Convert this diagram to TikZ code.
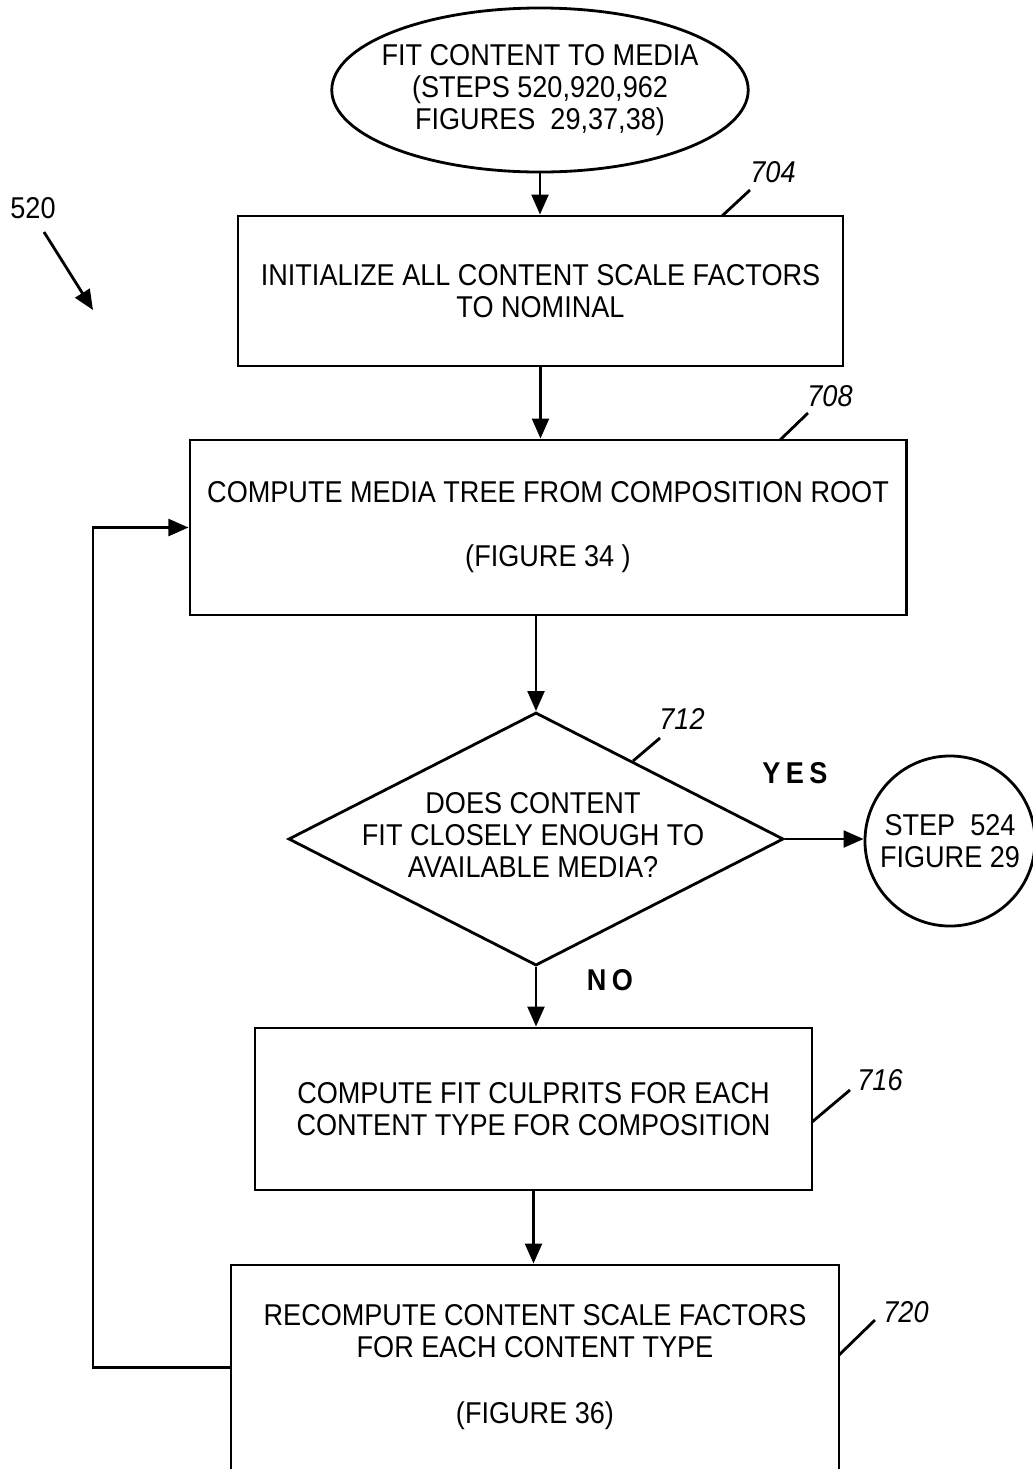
\documentclass[tikz,border=0pt]{standalone}
\usepackage{fontspec}
\setmainfont{Liberation Sans}[FakeStretch=0.9]
\usetikzlibrary{shapes.geometric,arrows.meta}
\begin{document}
\begin{tikzpicture}[x=0.025cm,y=-0.025cm,line width=2pt,
  >={Triangle[length=0.5cm,width=0.42cm]},
  font=\fontsize{21.4}{22.8}\selectfont,
  box/.style={draw,rectangle,inner sep=0pt,align=center},
  num/.style={font=\fontsize{21.4}{22.8}\selectfont\itshape,inner sep=0pt},
  ans/.style={font=\fontsize{21.4}{22.8}\selectfont\bfseries\addfontfeature{LetterSpace=18},inner sep=0pt},
  leader/.style={line width=2pt}]
\clip (0,0) rectangle (1033,1469);
\fill[white] (0,0) rectangle (1033,1469);

% nodes
\node[ellipse,draw,minimum width=10.375cm,minimum height=4.1cm,inner xsep=-8pt,inner ysep=0pt,align=center] (start) at (540,90)
  {FIT CONTENT TO MEDIA\\(STEPS 520,920,962\\FIGURES\ \ 29,37,38)};
\node[box,minimum width=15.125cm,minimum height=3.75cm] (b704) at (540.5,291)
  {INITIALIZE ALL CONTENT SCALE FACTORS\\TO NOMINAL};
\node[box,minimum width=17.9cm,minimum height=4.375cm] (b708) at (548,527.5)
  {COMPUTE MEDIA TREE FROM COMPOSITION ROOT\\[0.8cm](FIGURE 34 )};
\node[diamond,draw,minimum width=12.375cm,minimum height=6.325cm,inner sep=0pt] (d712) at (536,839) {};
\node[align=center,inner sep=0pt] (d712t) at (533,835)
  {DOES CONTENT\\FIT CLOSELY ENOUGH TO\\AVAILABLE MEDIA?};
\node[circle,draw,minimum size=4.25cm,inner sep=0pt,align=center] (c524) at (950,841)
  {STEP\ \ 524\\FIGURE 29};
\node[box,minimum width=13.925cm,minimum height=4.05cm] (b716) at (533.5,1109)
  {COMPUTE FIT CULPRITS FOR EACH\\CONTENT TYPE FOR COMPOSITION};
\node[box,minimum width=15.2cm,minimum height=5.125cm] (b720) at (535,1367.5)
  {RECOMPUTE CONTENT SCALE FACTORS\\FOR EACH CONTENT TYPE\\[0.85cm](FIGURE 36)};

% answers
\node[ans] (yes) at (795,773) {YES};
\node[ans] (no) at (610,980) {NO};

% reference numerals
\node[inner sep=0pt] (n520) at (33,208) {520};
\coordinate (a520s) at (44,232);
\coordinate (a520e) at (93,310);
\draw[->] (a520s) -- (a520e);

\node[num] (n704) at (773,172) {704};
\coordinate (l704a) at (722,216); \coordinate (l704b) at (750,190);
\draw[leader] (l704a) -- (l704b);
\node[num] (n708) at (830,396) {708};
\coordinate (l708a) at (780,440); \coordinate (l708b) at (808,413);
\draw[leader] (l708a) -- (l708b);
\node[num] (n712) at (682,719) {712};
\coordinate (l712a) at (633,761); \coordinate (l712b) at (660,738);
\draw[leader] (l712a) -- (l712b);
\node[num] (n716) at (880,1080) {716};
\coordinate (l716a) at (812,1122); \coordinate (l716b) at (850,1090);
\draw[leader] (l716a) -- (l716b);
\node[num] (n720) at (906,1312) {720};
\coordinate (l720a) at (839,1355); \coordinate (l720b) at (875,1320);
\draw[leader] (l720a) -- (l720b);

% connectors
\draw[->] (start.south) -- (start.south |- b704.north);
\draw[->] (b704.south) -- (b704.south |- b708.north);
\draw[->] (b708.south -| d712.north) -- (d712.north);
\draw[->] (d712.east) -- (d712.east -| c524.west);
\draw[->] (d712.south) -- (d712.south |- b716.north);
\draw[->] (b716.south) -- (b716.south |- b720.north);
\coordinate (fb) at (93,1366);
\draw[->] (b720.west) -- (b720.west -| fb) |- (b708.west);
\end{tikzpicture}
\end{document}
